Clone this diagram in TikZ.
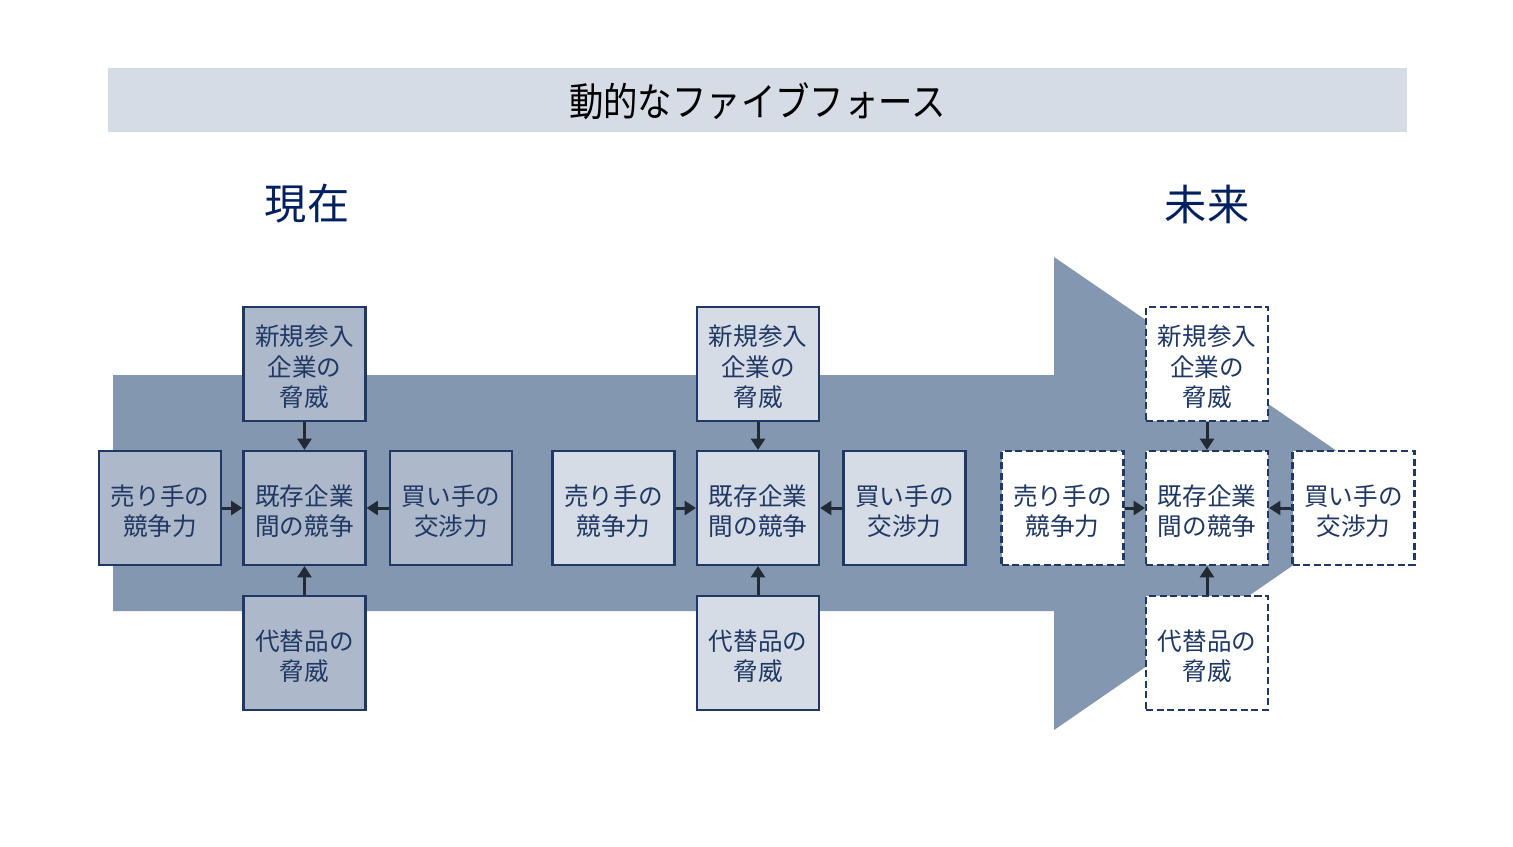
\documentclass[tikz,border=0pt]{standalone}
\usepackage{fontspec}
\setmainfont{Noto Sans CJK JP}
\usetikzlibrary{arrows.meta}
\definecolor{bandfill}{HTML}{D6DCE5}
\definecolor{bigarrow}{HTML}{8497B0}
\definecolor{boxA}{HTML}{ADB9CA}
\definecolor{boxB}{HTML}{D6DCE5}
\definecolor{navy}{HTML}{1F3864}
\definecolor{textnavy}{HTML}{203864}
\definecolor{labnavy}{HTML}{002060}
\definecolor{arrowdark}{HTML}{222A35}
\tikzset{
  forcebox/.style={draw=navy, line width=1.2pt, minimum width=2.44cm, minimum height=2.28cm,
    inner sep=0pt},
  boxfillA/.style={forcebox, fill=boxA},
  boxfillB/.style={forcebox, fill=boxB},
  boxfillC/.style={forcebox, fill=white, dash pattern=on 4pt off 2pt},
  boxtext/.style={inner sep=0pt, align=center, text=textnavy, font=\fontsize{14}{17.3}\selectfont},
  conn/.style={draw=arrowdark, line width=1.7pt, -{Triangle[length=6.5pt,width=8pt]}},
  period/.style={text=labnavy, font=\fontsize{24}{28}\selectfont},
}
\begin{document}
\begin{tikzpicture}[x=0.02cm, y=-0.02cm]
\useasboundingbox (0,0) rectangle (1513,846);
\fill[white] (0,0) rectangle (1513,846);
% title band
\fill[bandfill] (108,68) rectangle (1407,132);
\node[font=\fontsize{22.5}{26}\selectfont, xscale=0.87] (title) at (757.5,101) {動的なファイブフォース};
% period labels
\node[period] (now) at (307,204) {現在};
\node[period] (future) at (1207,204) {未来};
% big arrow
\fill[bigarrow] (113,375) -- (1054,375) -- (1054,257) -- (1398,493) -- (1054,730) -- (1054,611) -- (113,611) -- cycle;
% force groups
\foreach \g/\cx/\sty in {a/304.5/boxfillA, b/758/boxfillB, c/1207/boxfillC}{
  \node[\sty] (\g-c) at (\cx,508) {};
  \node[\sty] (\g-t) at (\cx,364) {};
  \node[\sty] (\g-b) at (\cx,653) {};
  \node[\sty] (\g-l) at ({\cx-144.5},508) {};
  \node[\sty] (\g-r) at ({\cx+146.5},508) {};
  \node[boxtext] (\g-ct) at ([yshift=-1.7pt]\g-c.center) {既存企業\\間の競争};
  \node[boxtext] (\g-tt) at ([yshift=-1.7pt]\g-t.center) {新規参入\\企業の\\脅威};
  \node[boxtext] (\g-bt) at ([yshift=-1.7pt]\g-b.center) {代替品の\\脅威};
  \node[boxtext] (\g-lt) at ([yshift=-1.7pt]\g-l.center) {売り手の\\競争力};
  \node[boxtext] (\g-rt) at ([yshift=-1.7pt]\g-r.center) {買い手の\\交渉力};
  \draw[conn] (\g-t) -- (\g-c);
  \draw[conn] (\g-b) -- (\g-c);
  \draw[conn] (\g-l) -- (\g-c);
  \draw[conn] (\g-r) -- (\g-c);
}
\end{tikzpicture}
\end{document}
